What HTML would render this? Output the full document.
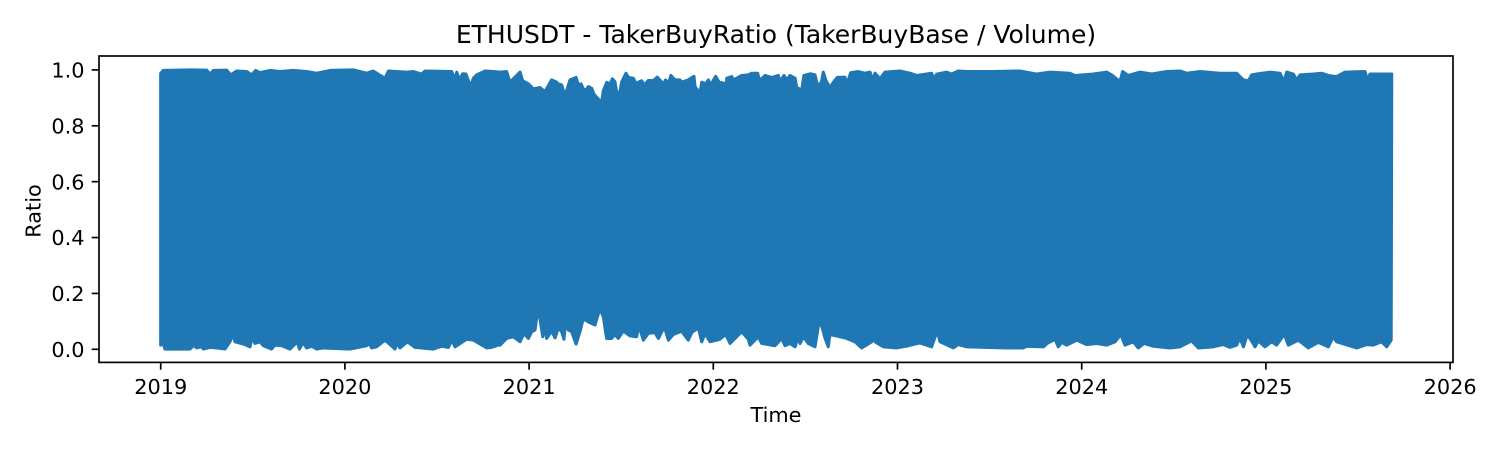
<!DOCTYPE html>
<html lang="en">
<head>
<meta charset="utf-8">
<title>ETHUSDT - TakerBuyRatio</title>
<style>
html,body{margin:0;padding:0;background:#fff;width:1500px;height:450px;overflow:hidden}
svg{display:block}
text{font-family:"DejaVu Sans","Liberation Sans",sans-serif;fill:#000}
</style>
</head>
<body>
<svg id="chart" xmlns="http://www.w3.org/2000/svg" width="1500" height="450" viewBox="0 0 1500 450">
  <text x="776" y="43" font-size="25" text-anchor="middle">ETHUSDT - TakerBuyRatio (TakerBuyBase / Volume)</text>
  <path id="ratio-band" fill="#1f77b4" stroke="#1f77b4" stroke-width="3.1" stroke-linejoin="round"></path>
  <g id="ticks"></g>
  <rect x="99" y="56" width="1354" height="306.4" fill="none" stroke="#000" stroke-width="1.67"></rect>
  <text x="776" y="422" font-size="20.83" text-anchor="middle">Time</text>
  <text transform="translate(40.5,211) rotate(-90)" font-size="20.83" text-anchor="middle">Ratio</text>
</svg>
<script>
const xTickYears = [2019, 2020, 2021, 2022, 2023, 2024, 2025, 2026];
const yTickValues = [0, 0.2, 0.4, 0.6, 0.8, 1];
const yTickLabels = ['0.0', '0.2', '0.4', '0.6', '0.8', '1.0'];

const highDates = [
2019.000,2019.014,2019.159,2019.250,2019.268,2019.286,2019.358,2019.380,2019.412,2019.467,
2019.494,2019.516,2019.539,2019.593,2019.648,2019.720,2019.792,2019.847,2019.919,2020.046,
2020.118,2020.154,2020.218,2020.236,2020.335,2020.372,2020.417,2020.435,2020.580,2020.598,
2020.607,2020.621,2020.639,2020.657,2020.683,2020.697,2020.715,2020.761,2020.806,2020.842,
2020.878,2020.896,2020.951,2020.965,2020.996,2021.023,2021.059,2021.086,2021.122,2021.150,
2021.153,2021.159,2021.177,2021.195,2021.222,2021.255,2021.267,2021.282,2021.294,2021.309,
2021.322,2021.340,2021.352,2021.385,2021.389,2021.403,2021.421,2021.439,2021.452,2021.466,
2021.475,2021.493,2021.502,2021.526,2021.539,2021.566,2021.580,2021.611,2021.626,2021.647,
2021.674,2021.696,2021.729,2021.741,2021.756,2021.770,2021.792,2021.819,2021.828,2021.864,
2021.895,2021.901,2021.928,2021.937,2021.960,2021.973,2021.986,2022.013,2022.031,2022.058,
2022.067,2022.073,2022.100,2022.109,2022.154,2022.190,2022.208,2022.241,2022.250,2022.281,
2022.317,2022.353,2022.362,2022.384,2022.398,2022.416,2022.444,2022.453,2022.480,2022.492,
2022.525,2022.552,2022.567,2022.588,2022.597,2022.612,2022.633,2022.652,2022.673,2022.715,
2022.724,2022.746,2022.787,2022.823,2022.851,2022.865,2022.878,2022.905,2022.932,2023.014,
2023.068,2023.104,2023.185,2023.200,2023.213,2023.267,2023.294,2023.330,2023.376,2023.520,
2023.665,2023.756,2023.828,2023.936,2023.964,2024.063,2024.136,2024.163,2024.208,2024.222,
2024.253,2024.317,2024.380,2024.461,2024.534,2024.570,2024.642,2024.751,2024.841,2024.878,
2024.905,2024.923,2024.950,2025.022,2025.077,2025.098,2025.113,2025.149,2025.167,2025.185,
2025.258,2025.303,2025.339,2025.384,2025.429,2025.538,2025.551,2025.565,2025.683
];
const highValues = [
.988,.998,1.000,.999,.985,.998,.999,.982,.996,.994,
.982,.998,.990,.998,.994,.998,.994,.988,.998,1.000,
.988,.996,.970,.996,.992,.994,.985,.996,.994,.964,
.992,.964,.986,.985,.940,.970,.982,.996,.994,.992,
.994,.956,.992,.961,.950,.932,.937,.922,.964,.956,
.920,.950,.946,.907,.964,.973,.946,.950,.932,.928,
.940,.934,.913,.889,.863,.925,.955,.950,.968,.958,
.920,.920,.956,.988,.973,.970,.952,.961,.946,.962,
.962,.974,.950,.964,.950,.980,.964,.964,.956,.964,
.977,.940,.916,.956,.950,.964,.946,.977,.956,.952,
.920,.970,.976,.964,.980,.982,.988,.988,.961,.980,
.973,.980,.958,.980,.964,.980,.970,.937,.928,.980,
.986,.982,.940,.958,.992,.961,.937,.956,.973,.974,
.946,.990,.994,.988,.992,.964,.988,.968,.992,.996,
.988,.980,.988,.968,.985,.992,.985,.996,.994,.994,
.996,.985,.992,.988,.980,.985,.992,.982,.958,.994,
.980,.992,.985,.994,.996,.988,.994,.988,.988,.964,
.961,.982,.985,.992,.988,.958,.992,.985,.964,.982,
.985,.988,.980,.976,.992,.994,.964,.985,.985
];

const lowDates = [
2019.000,2019.014,2019.023,2019.159,2019.181,2019.195,2019.222,2019.232,2019.268,2019.304,
2019.349,2019.376,2019.394,2019.403,2019.449,2019.485,2019.494,2019.512,2019.539,2019.557,
2019.602,2019.620,2019.657,2019.702,2019.742,2019.753,2019.774,2019.792,2019.820,2019.847,
2019.883,2020.028,2020.118,2020.133,2020.145,2020.172,2020.218,2020.272,2020.281,2020.299,
2020.339,2020.381,2020.480,2020.525,2020.562,2020.580,2020.598,2020.661,2020.697,2020.770,
2020.797,2020.833,2020.842,2020.878,2020.914,2020.951,2020.972,2020.996,2021.014,2021.032,
2021.045,2021.059,2021.074,2021.083,2021.095,2021.122,2021.141,2021.159,2021.177,2021.189,
2021.200,2021.213,2021.231,2021.255,2021.276,2021.294,2021.322,2021.358,2021.367,2021.385,
2021.403,2021.421,2021.448,2021.466,2021.484,2021.511,2021.548,2021.584,2021.595,2021.620,
2021.647,2021.683,2021.702,2021.734,2021.756,2021.783,2021.828,2021.864,2021.883,2021.919,
2021.937,2021.955,2021.982,2022.036,2022.067,2022.091,2022.154,2022.190,2022.199,2022.244,
2022.263,2022.335,2022.371,2022.389,2022.416,2022.444,2022.462,2022.471,2022.489,2022.516,
2022.552,2022.570,2022.585,2022.606,2022.624,2022.633,2022.688,2022.724,2022.769,2022.805,
2022.860,2022.865,2022.878,2022.923,2022.995,2023.059,2023.122,2023.185,2023.216,2023.231,
2023.303,2023.330,2023.375,2023.430,2023.593,2023.683,2023.701,2023.792,2023.813,2023.855,
2023.873,2023.891,2023.918,2023.973,2024.027,2024.081,2024.136,2024.181,2024.212,2024.235,
2024.280,2024.307,2024.338,2024.389,2024.479,2024.534,2024.597,2024.633,2024.715,2024.769,
2024.805,2024.841,2024.859,2024.878,2024.899,2024.923,2024.941,2024.959,2024.995,2025.031,
2025.058,2025.100,2025.122,2025.176,2025.230,2025.285,2025.339,2025.366,2025.384,2025.493,
2025.547,2025.583,2025.628,2025.656,2025.680
];
const lowValues = [
.015,.021,.001,.001,.015,.005,.009,.001,.007,.005,
.001,.027,.057,.027,.019,.009,.041,.021,.027,.013,
.001,.015,.013,.001,.027,.001,.025,.005,.011,.001,
.005,.001,.013,.021,.005,.009,.033,.001,.023,.005,
.027,.007,.001,.011,.007,.033,.009,.036,.033,.005,
.007,.015,.015,.039,.045,.027,.057,.039,.063,.069,
.132,.110,.045,.089,.039,.065,.041,.077,.063,.036,
.104,.069,.063,.019,.063,.110,.098,.087,.108,.146,
.116,.039,.039,.053,.039,.065,.048,.045,.087,.033,
.057,.060,.039,.081,.033,.053,.065,.033,.060,.077,
.027,.057,.027,.036,.053,.021,.063,.036,.015,.045,
.021,.013,.039,.013,.021,.009,.047,.021,.045,.021,
.009,.081,.093,.041,.009,.053,.045,.039,.027,.005,
.027,.066,.027,.009,.005,.013,.023,.009,.066,.027,
.005,.017,.009,.008,.005,.005,.011,.009,.021,.036,
.009,.025,.015,.033,.017,.021,.015,.027,.053,.015,
.027,.005,.021,.011,.005,.009,.030,.005,.009,.017,
.007,.015,.041,.009,.053,.029,.009,.030,.009,.027,
.015,.054,.015,.033,.005,.025,.009,.045,.027,.005,
.017,.015,.027,.009,.033
];

const xAt = year => 160.7 + (year - 2019) * 184.2;
const yAt = value => 349.3 - value * 279.4;

const NS = 'http://www.w3.org/2000/svg';
const ticks = document.getElementById('ticks');

let d = '';
highDates.forEach((year, i) => {
  d += (i ? 'L' : 'M') + xAt(year).toFixed(2) + ' ' + yAt(highValues[i]).toFixed(2);
});
for (let i = lowDates.length - 1; i >= 0; i--) {
  d += 'L' + xAt(lowDates[i]).toFixed(2) + ' ' + yAt(lowValues[i]).toFixed(2);
}
document.getElementById('ratio-band').setAttribute('d', d + 'Z');

function addLine(x1, y1, x2, y2) {
  const line = document.createElementNS(NS, 'line');
  line.setAttribute('x1', x1);
  line.setAttribute('y1', y1);
  line.setAttribute('x2', x2);
  line.setAttribute('y2', y2);
  line.setAttribute('stroke', '#000');
  line.setAttribute('stroke-width', '1.67');
  ticks.appendChild(line);
  return line;
}
function addText(x, y, content, anchor) {
  const text = document.createElementNS(NS, 'text');
  text.setAttribute('x', x);
  text.setAttribute('y', y);
  text.setAttribute('font-size', '20.83');
  text.setAttribute('text-anchor', anchor);
  text.textContent = content;
  ticks.appendChild(text);
  return text;
}

xTickYears.forEach(year => {
  const mark = addLine(xAt(year), 362.4, xAt(year), 369.7);
  
  
  const label = addText(xAt(year), 394, String(year), 'middle');
  
  
});

yTickValues.forEach((value, i) => {
  const mark = addLine(91.7, yAt(value), 99, yAt(value));
  
  
  const label = addText(84.5, yAt(value) + 7.6, yTickLabels[i], 'end');
  
  
});
</script>
</body>
</html>
